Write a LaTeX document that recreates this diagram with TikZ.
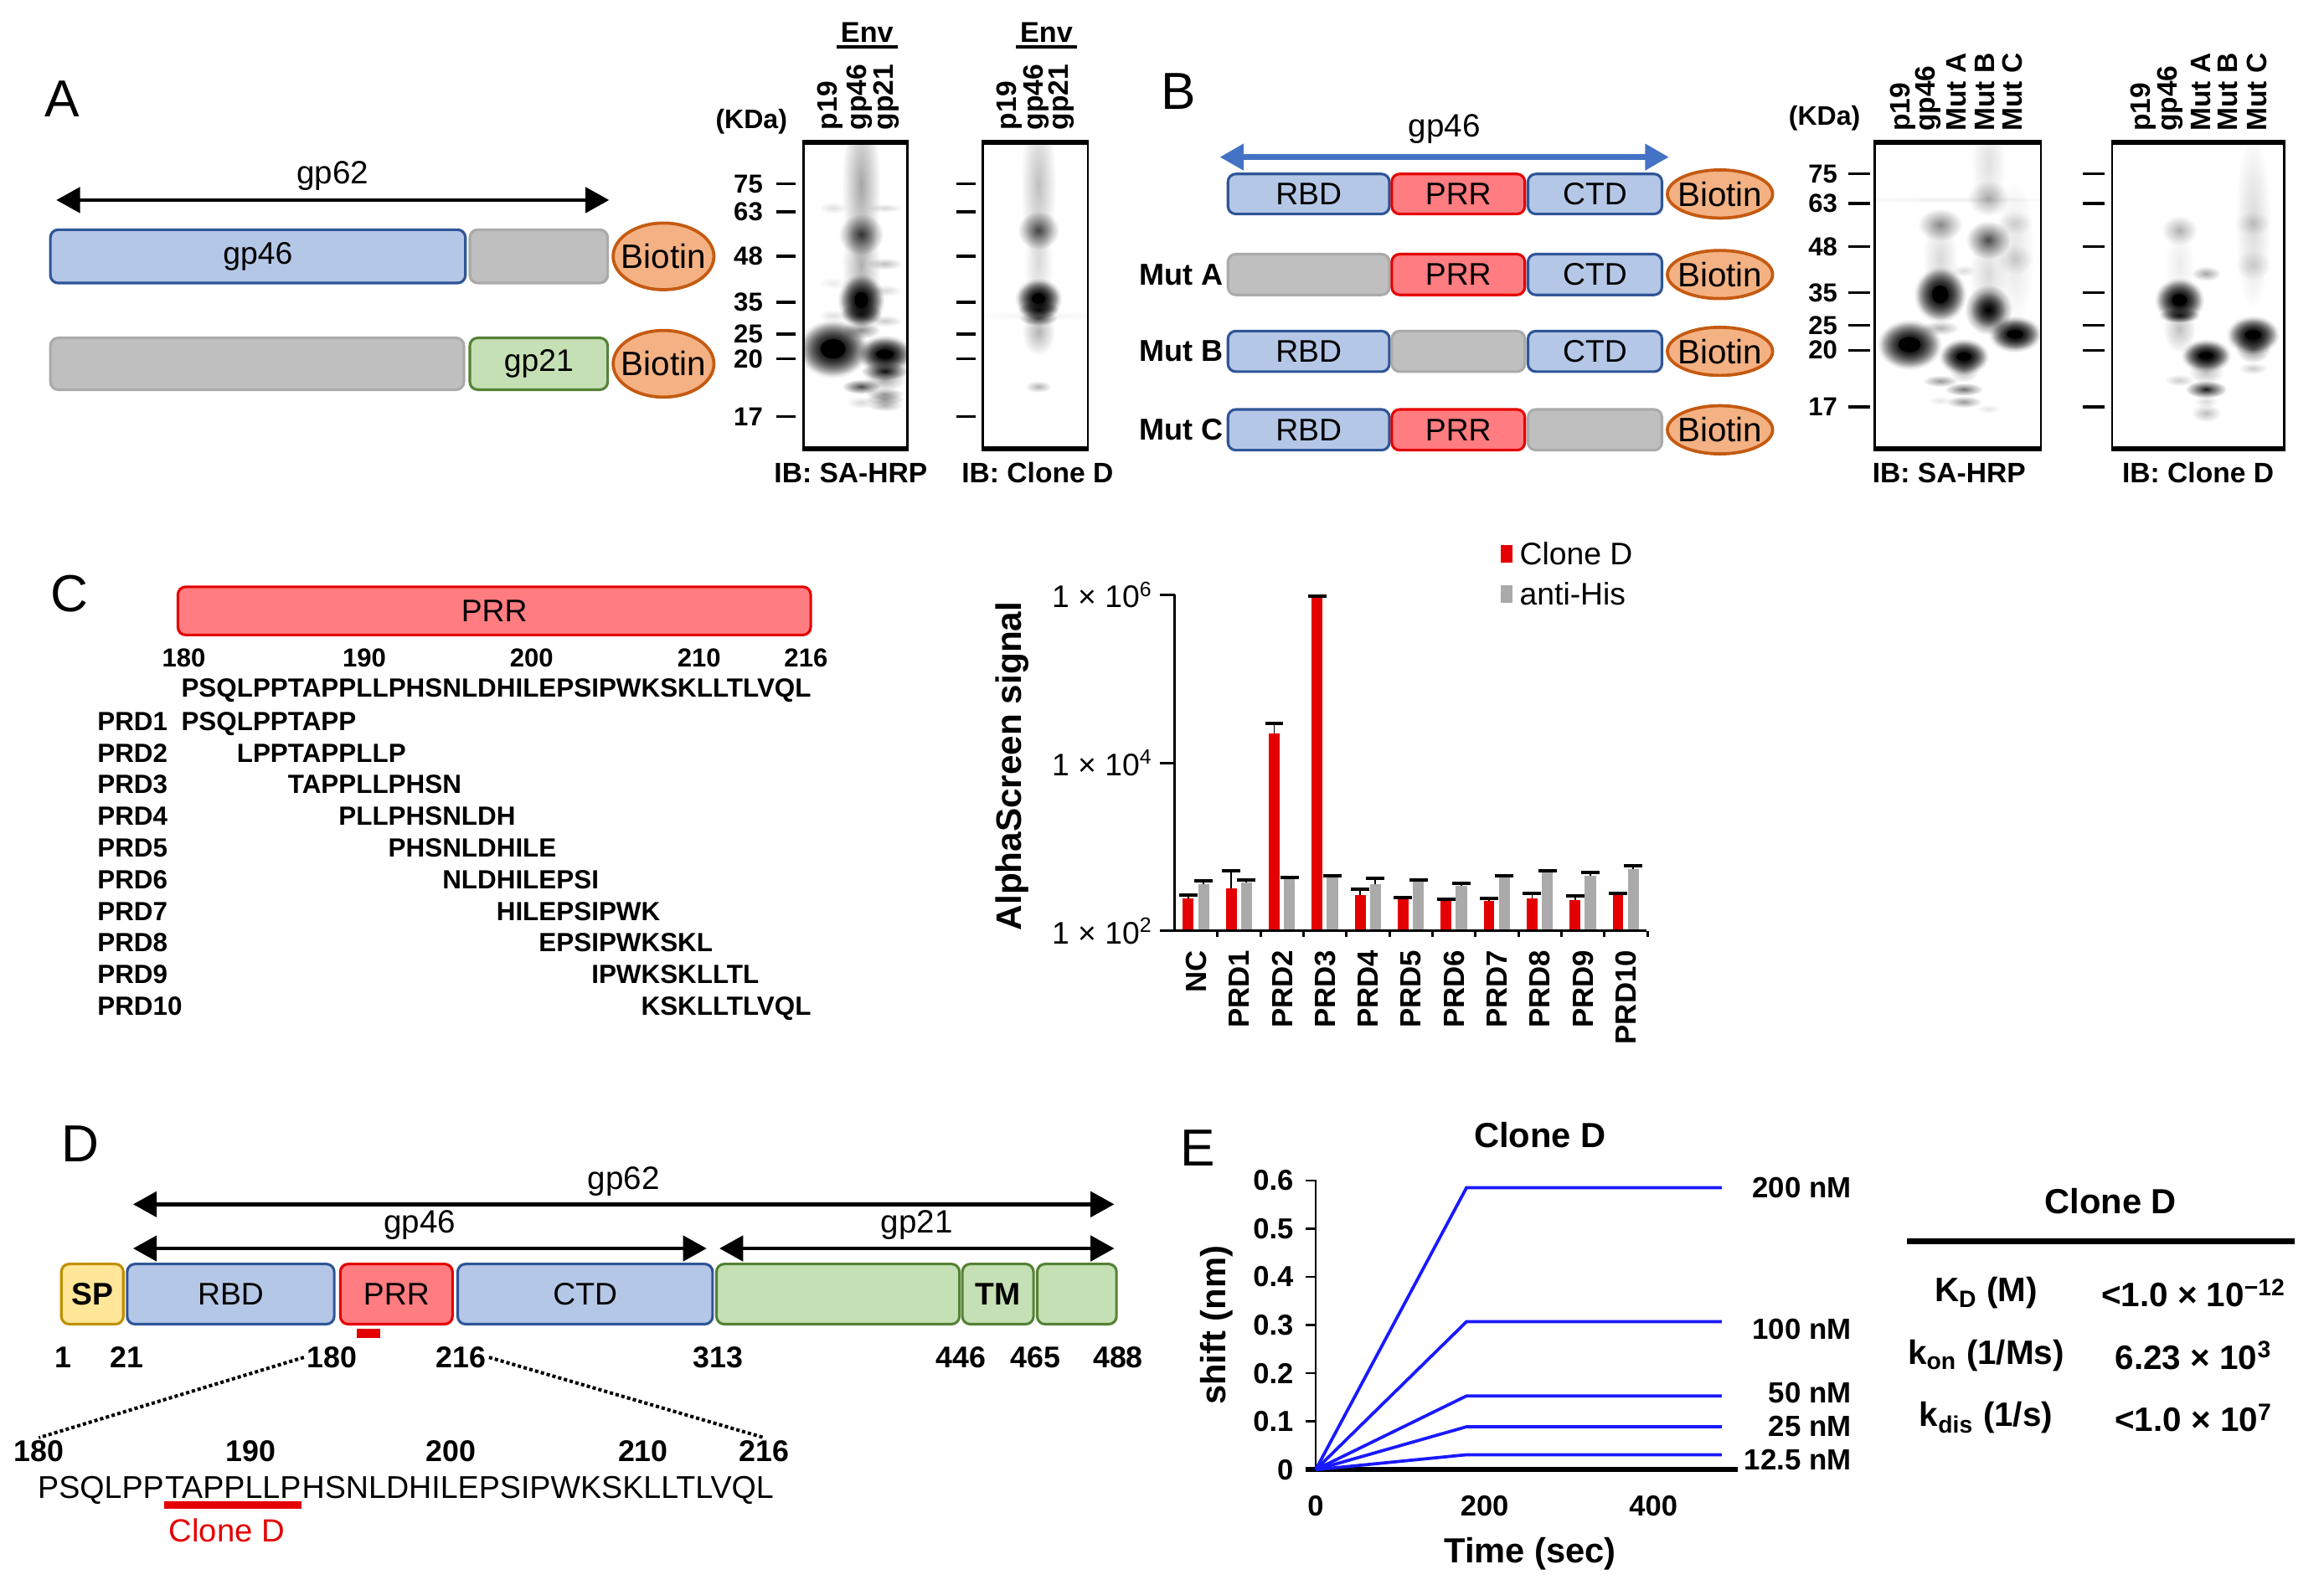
\documentclass[tikz,border=0pt]{standalone}
\usepackage{fontspec}
\setmainfont{Liberation Sans}
\usetikzlibrary{arrows.meta,positioning,shapes.geometric,fadings,fit}
\definecolor{boxblue}{RGB}{180,199,231}
\definecolor{lineblue}{RGB}{47,85,151}
\definecolor{boxred}{RGB}{255,124,128}
\definecolor{linered}{RGB}{228,0,0}
\definecolor{boxgray}{RGB}{191,191,191}
\definecolor{linegray}{RGB}{170,170,170}
\definecolor{boxgreen}{RGB}{197,224,180}
\definecolor{linegreen}{RGB}{84,130,53}
\definecolor{boxyellow}{RGB}{255,230,153}
\definecolor{lineyellow}{RGB}{191,144,0}
\definecolor{biofill}{RGB}{244,177,131}
\definecolor{bioline}{RGB}{197,90,17}
\definecolor{arrowblue}{RGB}{68,114,196}
\definecolor{barred}{RGB}{228,0,0}
\definecolor{bargray}{RGB}{170,170,170}
\definecolor{curveblue}{RGB}{25,25,255}
\newcommand{\fsz}[1]{\fontsize{#1}{#1}\selectfont}
\newcommand{\dbox}[7]{\node[#2, fit={(#3,#5) (#4,#6)}] (#1) {};
    \node[#2, draw=none, fill=none] (#1t) at (#1.center) {#7};}
\newcommand{\band}[5]{\fill[black, opacity=#5, path fading=fuzzy] (#1,#2) ellipse ({2*#3} and {2*#4});}
\newcommand{\blob}[4]{\band{#1}{#2}{#3+2}{#4+2}{1}\band{#1}{#2}{#3}{#4}{1}
    \fill[black] (#1,#2) ellipse ({#3-2.5} and {#4-2.5});}
\tikzfading[name=fuzzy, inner color=transparent!0, outer color=transparent!100]

\begin{document}
\begin{tikzpicture}[x=0.02cm, y=-0.02cm,
    panel/.style={font=\fsz{20}},
    dom/.style={rounded corners=3pt, line width=1pt, inner sep=0pt, font=\fsz{12}},
    bluedom/.style={dom, draw=lineblue, fill=boxblue},
    reddom/.style={dom, draw=linered, fill=boxred},
    graydom/.style={dom, draw=linegray, fill=boxgray},
    greendom/.style={dom, draw=linegreen, fill=boxgreen},
    yellowdom/.style={dom, draw=lineyellow, fill=boxyellow},
    biotin/.style={ellipse, draw=bioline, fill=biofill, line width=1.2pt, inner sep=0pt,
        label={[font=\fsz{13}, inner sep=0pt]center:Biotin}},
    bioA/.style={biotin, minimum width=1.36cm, minimum height=0.9cm},
    bioB/.style={biotin, minimum width=1.42cm, minimum height=0.65cm},
    dimarrow/.style={{Triangle[length=0.32cm,width=0.34cm]}-{Triangle[length=0.32cm,width=0.34cm]}, line width=1.5pt},
    bluearrow/.style={dimarrow, draw=arrowblue, line width=2.2pt},
    arrowlab/.style={font=\fsz{12.4}, inner sep=1pt},
    blot/.style={draw, line width=0.9pt, inner sep=0pt},
    mtick/.style={line width=1.1pt},
    mw/.style={font=\fsz{10}\bfseries, anchor=east, inner sep=0pt},
    kda/.style={font=\fsz{10.3}\bfseries},
    lane/.style={font=\fsz{10.8}\bfseries, rotate=90, anchor=west, inner sep=0pt},
    env/.style={font=\fsz{11}\bfseries, inner sep=1.5pt},
    ib/.style={font=\fsz{10.8}\bfseries},
    mutlab/.style={font=\fsz{11.6}\bfseries, anchor=east, inner sep=0pt},
    seq/.style={font=\fsz{10.1}\bfseries, anchor=base west, inner sep=0pt},
    num/.style={font=\fsz{10}\bfseries},
    ytl/.style={font=\fsz{12}, anchor=east, inner sep=0pt},
    xtl/.style={font=\fsz{11.2}\bfseries, rotate=90, anchor=east, inner sep=0pt},
    leg/.style={font=\fsz{12}, anchor=west, inner sep=0pt},
    errbar/.style={line width=0.6pt},
    errcap/.style={line width=1.3pt},
    dnum/.style={font=\fsz{11.5}\bfseries, inner sep=1pt},
    seqD/.style={font=\fsz{12.1}, anchor=base west, inner sep=0pt},
    zoomline/.style={densely dotted, line width=1.3pt},
    ebold/.style={font=\fsz{11.1}\bfseries, inner sep=0pt},
    etitle/.style={font=\fsz{13.4}\bfseries},
    curve/.style={draw=curveblue, line width=1.2pt},
    tab/.style={font=\fsz{13}\bfseries}]
\useasboundingbox (0,0) rectangle (1568,1073);

\node[panel] (pA) at (42,66.5) {A};
\coordinate (a62l) at (38,135);
\coordinate (a62r) at (411,135);
\draw[dimarrow] (a62l) -- node[arrowlab, above=2pt] (t62a) {gp62} (a62r);
\dbox{gp46A}{bluedom}{34}{314}{155}{191}{gp46}
\dbox{grayA1}{graydom}{317}{410}{155}{191}{}
\node[bioA, right=1pt of grayA1] (bioA1) {};
\dbox{grayA2}{graydom}{34}{313}{228}{263}{}
\dbox{gp21A}{greendom}{317}{410}{228}{263}{gp21}
\node[bioA, right=1pt of gp21A] (bioA2) {};

\node[kda] (kdaA) at (507,82) {(KDa)};
\foreach \x/\t [count=\n] in {560/p19,580/gp46,598/gp21}
    \node[lane] (laneA\n) at (\x,88) {\t};
\foreach \x/\t [count=\n] in {681/p19,699/gp46,716/gp21}
    \node[lane] (laneC\n) at (\x,88) {\t};
\node[env] (envA1) at (585,22) {Env};
\draw[line width=1.1pt] (envA1.south west) -- (envA1.south east);
\node[env] (envA2) at (706,22) {Env};
\draw[line width=1.1pt] (envA2.south west) -- (envA2.south east);

\begin{scope}
\clip (542,97) rectangle (612,302);
\blob{562}{235.4}{11}{9}
\band{562}{140.3}{5}{2}{0.12}\band{562}{191}{5}{2}{0.08}\band{562}{213}{5}{2}{0.12}
\band{581}{125}{6.5}{28}{0.35}
\band{581}{158.2}{7.5}{7}{0.75}
\band{581}{180}{6.5}{16}{0.3}
\blob{581}{202.5}{7}{8}
\band{581}{212}{7}{4}{0.8}
\band{581}{222.7}{6.5}{3}{0.45}
\band{581}{260.9}{6.5}{2.5}{0.7}
\band{581}{271.6}{5}{2}{0.15}
\blob{597}{239}{8.5}{5.5}
\band{597}{250.5}{8}{3}{0.95}
\band{597}{256}{7}{4}{0.35}
\band{597}{265.8}{6.5}{2}{0.4}\band{597}{269.5}{6.5}{2}{0.4}\band{597}{273.5}{6}{2}{0.3}
\band{597}{178}{6}{2}{0.25}\band{597}{196}{6}{2}{0.15}\band{597}{216.5}{6}{2}{0.2}
\band{597}{140.3}{6}{1.5}{0.15}
\end{scope}
\begin{scope}
\clip (663,97) rectangle (734,302);
\band{700.6}{125}{6}{26}{0.25}
\band{700.6}{155.4}{7}{6.5}{0.7}
\band{700.6}{178}{5}{14}{0.15}
\blob{700.6}{201.5}{7}{6}
\band{700.6}{209}{7}{3}{0.9}
\band{700.6}{214.7}{6.5}{2.5}{0.7}
\band{700.6}{224}{5.5}{8}{0.3}
\band{700.6}{260.9}{4.5}{2}{0.3}
\band{700}{213}{24}{1.5}{0.05}
\end{scope}

\node[blot, fit={(542,97) (612,302)}] (blotA1) {};
\draw[line width=2pt] (blotA1.north west) -- (blotA1.north east) (blotA1.south west) -- (blotA1.south east);
\node[blot, fit={(663,97) (734,302)}] (blotA2) {};
\draw[line width=2pt] (blotA2.north west) -- (blotA2.north east) (blotA2.south west) -- (blotA2.south east);
\foreach \m/\y in {75/124,63/143,48/173,35/204,25/225.5,20/242,17/281}{
    \draw[mtick] (524,\y) -- (537,\y);
    \draw[mtick] (645,\y) -- (658,\y);
    \node[mw] (mwA\m) at (515,\y) {\m};
}
\node[ib] (ibA1) at (574,319) {IB: SA-HRP};
\node[ib] (ibA2) at (700,319) {IB: Clone D};

\node[panel] (pB) at (795.3,61.7) {B};
\coordinate (b46l) at (823,106);
\coordinate (b46r) at (1126,106);
\draw[bluearrow] (b46l) -- node[arrowlab, above=3pt] (t46b) {gp46} (b46r);
\dbox{rbd1}{bluedom}{828.5}{937.4}{117.4}{144.4}{RBD}
\dbox{prr1}{reddom}{939}{1028.8}{117.4}{144.4}{PRR}
\dbox{ctd1}{bluedom}{1030.9}{1121.3}{117.4}{144.4}{CTD}
\node[bioB, right=1pt of ctd1] (bioB1) {};
\dbox{rbd2}{graydom}{828.5}{937.4}{171.5}{199}{}
\dbox{prr2}{reddom}{939}{1028.8}{171.5}{199}{PRR}
\dbox{ctd2}{bluedom}{1030.9}{1121.3}{171.5}{199}{CTD}
\node[bioB, right=1pt of ctd2] (bioB2) {};
\dbox{rbd3}{bluedom}{828.5}{937.4}{223.4}{250.8}{RBD}
\dbox{prr3}{graydom}{939}{1028.8}{223.4}{250.8}{}
\dbox{ctd3}{bluedom}{1030.9}{1121.3}{223.4}{250.8}{CTD}
\node[bioB, right=1pt of ctd3] (bioB3) {};
\dbox{rbd4}{bluedom}{828.5}{937.4}{276.3}{303.8}{RBD}
\dbox{prr4}{reddom}{939}{1028.8}{276.3}{303.8}{PRR}
\dbox{ctd4}{graydom}{1030.9}{1121.3}{276.3}{303.8}{}
\node[bioB, right=1pt of ctd4] (bioB4) {};
\node[mutlab, left=1pt of rbd2] (mutA) {Mut A};
\node[mutlab, left=1pt of rbd3] (mutB) {Mut B};
\node[mutlab, left=1pt of rbd4] (mutC) {Mut C};

\node[kda] (kdaB) at (1231,80) {(KDa)};
\foreach \x/\t [count=\n] in {1284/p19,1301/gp46,1320/Mut A,1339/Mut B,1357.6/Mut C}
    \node[lane] (laneB\n) at (\x,89) {\t};
\foreach \x/\t [count=\n] in {1446/p19,1464/gp46,1485/Mut A,1503/Mut B,1522.5/Mut C}
    \node[lane] (laneD\n) at (\x,89) {\t};

\begin{scope}
\clip (1265,97) rectangle (1377,302);
\band{1318}{134.7}{45}{1.2}{0.06}
\blob{1288.3}{232.6}{10}{7.6}
\band{1309}{151.6}{7.5}{5.5}{0.45}
\band{1309}{175}{6}{15}{0.15}
\blob{1309}{198.7}{8}{8.5}
\band{1309}{221.3}{6.5}{2.5}{0.3}
\band{1309}{257.1}{6}{2}{0.4}
\band{1309}{270.3}{4}{1.5}{0.1}
\blob{1325}{240.6}{7.5}{5.2}
\band{1325}{262.7}{6.5}{2.2}{0.55}
\band{1325}{271.2}{6}{2}{0.4}
\band{1325}{182.7}{4}{2}{0.15}
\band{1325}{250}{5}{4}{0.3}
\band{1341.5}{110}{6}{18}{0.12}
\band{1341.5}{133.7}{7}{6}{0.3}
\band{1341.5}{161.9}{7.5}{6.5}{0.7}
\band{1341.5}{185}{6.5}{14}{0.15}
\band{1341.5}{209}{8}{8.5}{1}\band{1341.5}{209}{6}{6}{0.7}
\band{1341.5}{275.9}{4}{1.5}{0.1}
\band{1359.5}{170}{6.5}{25}{0.1}
\band{1359.5}{150.6}{6}{4}{0.15}
\band{1359.5}{175}{6}{5}{0.15}
\blob{1359.5}{225.5}{8}{5.2}
\end{scope}
\begin{scope}
\clip (1425,97) rectangle (1541,302);
\band{1470.4}{155.4}{6}{5}{0.3}
\band{1470.4}{178}{5}{12}{0.08}
\blob{1470.4}{202.5}{7.5}{6.6}
\band{1470.4}{212.8}{7}{2.5}{0.85}
\band{1470.4}{222}{5.5}{8}{0.25}
\band{1470.4}{256.6}{5}{2}{0.2}
\blob{1488.4}{240}{7.5}{4.7}
\band{1488.4}{262.7}{7}{3}{0.9}
\band{1488.4}{184.6}{5}{2.5}{0.35}
\band{1488.4}{251}{6}{4}{0.25}
\band{1488.4}{271}{4}{2}{0.15}
\band{1488.4}{278.8}{5}{3}{0.25}
\band{1520}{150}{6}{30}{0.15}
\band{1520}{150.6}{6}{4}{0.15}
\band{1520}{178.9}{6}{5}{0.15}
\blob{1520}{226}{8}{5.6}
\band{1520}{235}{6}{5}{0.5}
\band{1520}{248.6}{5}{2}{0.2}
\end{scope}

\node[blot, fit={(1265,97) (1377,302)}] (blotB1) {};
\draw[line width=2pt] (blotB1.north west) -- (blotB1.north east) (blotB1.south west) -- (blotB1.south east);
\node[blot, fit={(1425,97) (1541,302)}] (blotB2) {};
\draw[line width=2pt] (blotB2.north west) -- (blotB2.north east) (blotB2.south west) -- (blotB2.south east);
\foreach \m/\y in {75/117.4,63/137.3,48/166.5,35/197.4,25/219.5,20/236.3,17/274.6}{
    \draw[mtick] (1247,\y) -- (1262,\y);
    \draw[mtick] (1405,\y) -- (1420,\y);
    \node[mw] (mwB\m) at (1240,\y) {\m};
}
\node[ib] (ibB1) at (1315,319) {IB: SA-HRP};
\node[ib] (ibB2) at (1483,319) {IB: Clone D};

\node[panel] (pC) at (47,400.7) {C};
\dbox{prrC}{reddom}{120}{547}{396}{428.5}{PRR}
\foreach \t/\x in {180/124,190/245.8,200/358.7,210/471.7,216/543.8}
    \node[num] (cn\t) at (\x,444) {\t};
\node[seq] (seqC) at (122,470.6) {PSQLPPTAPPLLPHSNLDHILEPSIPWKSKLLTLVQL};
\foreach \k/\pre/\pep in {1//PSQLPPTAPP,2/PSQ/LPPTAPPLLP,3/PSQLPP/TAPPLLPHSN,
        4/PSQLPPTAP/PLLPHSNLDH,5/PSQLPPTAPPLL/PHSNLDHILE,6/PSQLPPTAPPLLPHS/NLDHILEPSI,
        7/PSQLPPTAPPLLPHSNLD/HILEPSIPWK,8/PSQLPPTAPPLLPHSNLDHIL/EPSIPWKSKL,
        9/PSQLPPTAPPLLPHSNLDHILEPS/IPWKSKLLTL,10/PSQLPPTAPPLLPHSNLDHILEPSIPW/KSKLLTLVQL}{
    \node[seq] (prd\k) at (65.4,{492.9+21.36*(\k-1)}) {PRD\k};
    \node[seq] (pep\k) at (122,{492.9+21.36*(\k-1)}) {\phantom{\pre}\pep};
}

\node[rotate=90, font=\fsz{13.6}\bfseries] (ylabC) at (683,517) {AlphaScreen signal};
\fill[barred] (1012.4,367.9) rectangle (1020.5,379.6);
\node[leg] (legRed) at (1025,373.8) {Clone D};
\fill[bargray] (1012.4,394.9) rectangle (1020.5,406.6);
\node[leg] (legGray) at (1025,400.7) {anti-His};
\foreach \i/\r/\re/\g/\ge/\lab in {0/2.39/2.43/2.56/2.60/NC,1/2.51/2.72/2.58/2.61/PRD1,
        2/4.35/4.47/2.62/2.64/PRD2,3/5.97/5.98/2.64/2.66/PRD3,4/2.43/2.50/2.56/2.63/PRD4,
        5/2.38/2.40/2.59/2.61/PRD5,6/2.36/2.38/2.54/2.57/PRD6,7/2.36/2.39/2.64/2.66/PRD7,
        8/2.39/2.45/2.70/2.72/PRD8,9/2.37/2.42/2.66/2.70/PRD9,10/2.43/2.45/2.74/2.78/PRD10}{
    \pgfmathsetmacro{\gx}{792.5+29*\i}
    \pgfmathsetmacro{\ry}{628.2-56.7*(\r-2)}
    \pgfmathsetmacro{\rey}{628.2-56.7*(\re-2)}
    \pgfmathsetmacro{\gy}{628.2-56.7*(\g-2)}
    \pgfmathsetmacro{\gey}{628.2-56.7*(\ge-2)}
    \fill[barred] (\gx+5.5,628.2) rectangle (\gx+12.8,\ry);
    \fill[bargray] (\gx+15.8,628.2) rectangle (\gx+23.2,\gy);
    \draw[errbar] (\gx+9.2,\ry) -- (\gx+9.2,\rey);
    \draw[errcap] (\gx+3,\rey) -- (\gx+15.4,\rey);
    \draw[errbar] (\gx+19.5,\gy) -- (\gx+19.5,\gey);
    \draw[errcap] (\gx+13.3,\gey) -- (\gx+25.7,\gey);
    \node[xtl] (xl\i) at (\gx+14.5,641) {\lab};
}
\draw[line width=0.9pt] (792.5,401.4) -- (792.5,628.2) -- (1111,628.2);
\foreach \k in {1,...,11}
    \draw[line width=0.9pt] (792.5+29*\k,628.2) -- ++(0,4);
\foreach \d/\e in {0/2,1/4,2/6}{
    \draw[line width=0.9pt] (792.5,628.2-113.4*\d) -- ++(-10,0);
    \node[ytl] (yl\e) at (778,628.2-113.4*\d) {1 × 10\textsuperscript{\e}};
}

\node[panel] (pD) at (54,771.7) {D};
\coordinate (d62l) at (89.8,812.7);
\coordinate (d62r) at (751.8,812.7);
\coordinate (d46l) at (89.8,842.5);
\coordinate (d46r) at (476.8,842.5);
\coordinate (d21l) at (485.4,842.5);
\coordinate (d21r) at (751.8,842.5);
\draw[dimarrow] (d62l) -- node[arrowlab, above=1.5pt] (t62d) {gp62} (d62r);
\draw[dimarrow] (d46l) -- node[arrowlab, above=1.5pt] (t46d) {gp46} (d46r);
\draw[dimarrow] (d21l) -- node[arrowlab, above=1.5pt] (t21d) {gp21} (d21r);
\dbox{spD}{yellowdom, font=\fsz{12}\bfseries}{41.4}{83.2}{853}{893.6}{SP}
\dbox{rbdD}{bluedom}{85.8}{225.5}{853}{893.6}{RBD}
\dbox{prrD}{reddom}{229.6}{305.3}{853}{893.6}{PRR}
\dbox{ctdD}{bluedom}{308.8}{480.8}{853}{893.6}{CTD}
\dbox{gr1D}{greendom}{483.4}{647.3}{853}{893.6}{}
\dbox{tmD}{greendom, font=\fsz{12}\bfseries}{649.3}{697.3}{853}{893.6}{TM}
\dbox{gr2D}{greendom}{699.8}{753.3}{853}{893.6}{}
\fill[linered] (240.7,896.8) rectangle (256.3,902.8);
\foreach \v/\x in {1/42.9,21/85.8,180/224,216/311,313/484.4,446/648.3,465/698.8,488/754.3}
    \node[dnum] (n\v) at (\x,916) {\v};
\foreach \v/\x in {180/26.2,190/169,200/304.2,210/433.9,216/515.6}
    \node[dnum] (m\v) at (\x,979.5) {\v};
\draw[zoomline] (n180.west) -- (m180.north);
\draw[zoomline] (n216.east) -- (m216.north);
\node[seqD] (s1) at (25.2,1010.9) {PSQLPP};
\node[seqD] (s2) at (s1.base east) {TAPPLLP};
\node[seqD] (s3) at (s2.base east) {HSNLDHILEPSIPWKSKLLTLVQL};
\draw[linered, line width=2.6pt] ([yshift=-2.5pt]s2.south west) -- ([yshift=-2.5pt]s2.south east);
\node[font=\fsz{12.3}, text=linered] (cloneD) at (153,1033) {Clone D};

\node[panel] (pE) at (808,775) {E};
\node[etitle] (eTitle) at (1039,766) {Clone D};
\draw[line width=0.8pt] (887.7,796) -- (887.7,991.8);
\foreach \v/\t in {0/0,1/0.1,2/0.2,3/0.3,4/0.4,5/0.5,6/0.6}{
    \draw[line width=0.8pt] (881,991.8-32.52*\v) -- (887.7,991.8-32.52*\v);
    \node[ebold, anchor=east] (ey\v) at (873,991.8-32.52*\v) {\t};
}
\draw[line width=1.8pt] (881,991.8) -- (1172.6,991.8);
\foreach \t/\x in {0/887.7,200/1001.6,400/1115.5}
    \node[ebold] (ex\t) at (\x,1016.2) {\t};
\node[etitle] (eX) at (1032.4,1048.6) {Time (sec)};
\node[etitle, rotate=90] (eY) at (821,894.3) {shift (nm)};
\foreach \p/\lab/\ly [count=\n] in {0.585/200 nM/801.5,0.307/100 nM/897,0.153/50 nM/939.7,0.089/25 nM/962.3,0.031/12.5 nM/985.4}{
    \draw[curve] (887.7,991.8) -- (989.4,991.8-325.2*\p) -- (1161.7,991.8-325.2*\p);
    \node[ebold, anchor=east, font=\fsz{11.2}\bfseries] (conc\n) at (1249.4,\ly) {\lab};
}

\node[etitle] (tTitle) at (1424,810.5) {Clone D};
\draw[line width=2.4pt] (1286.6,837.7) -- (1548.2,837.7);
\node[tab] (kd) at (1340,872.7) {K\textsubscript{D} (M)};
\node[tab] (kdv) at (1480,872.7) {<1.0 × 10\textsuperscript{−12}};
\node[tab] (kon) at (1340,914.8) {k\textsubscript{on} (1/Ms)};
\node[tab] (konv) at (1480,914.8) {6.23 × 10\textsuperscript{3}};
\node[tab] (kdis) at (1340,956.9) {k\textsubscript{dis} (1/s)};
\node[tab] (kdisv) at (1480,956.9) {<1.0 × 10\textsuperscript{7}};
\end{tikzpicture}
\end{document}
